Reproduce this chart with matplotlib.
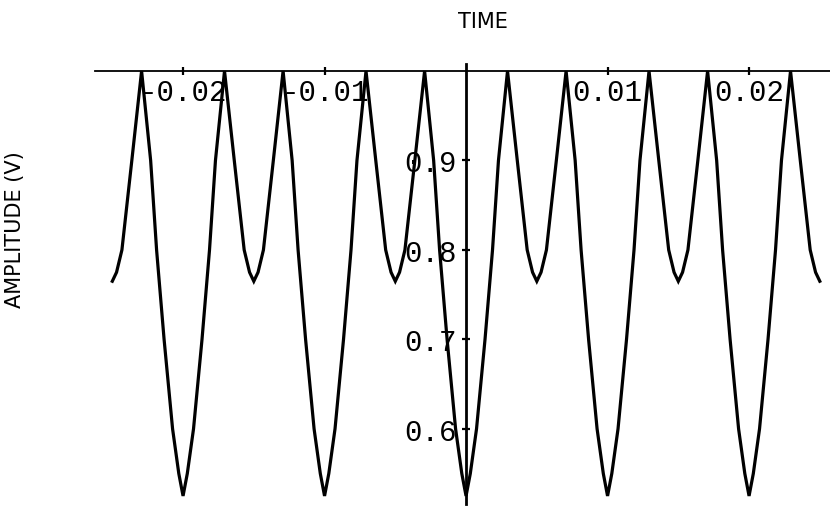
import numpy as np
import matplotlib
matplotlib.use('Agg')
import matplotlib.pyplot as plt

# waveform, time in ms, amplitude in V
time_ms = [
    -25.0, -24.7, -24.32, -23.62, -22.93, -22.29, -21.87, -21.34, -20.74, -20.3,
    -20.0, -19.7, -19.26, -18.66, -18.13, -17.71, -17.07, -16.38, -15.68, -15.3,
    -15.0, -14.7, -14.32, -13.62, -12.93, -12.29, -11.87, -11.34, -10.74, -10.3,
    -10.0, -9.7, -9.26, -8.66, -8.13, -7.71, -7.07, -6.38, -5.68, -5.3,
    -5.0, -4.7, -4.32, -3.62, -2.93, -2.29, -1.87, -1.34, -0.74, -0.3,
    0.0, 0.3, 0.74, 1.34, 1.87, 2.29, 2.93, 3.62, 4.32, 4.7,
    5.0, 5.3, 5.68, 6.38, 7.07, 7.71, 8.13, 8.66, 9.26, 9.7,
    10.0, 10.3, 10.74, 11.34, 11.87, 12.29, 12.93, 13.62, 14.32, 14.7,
    15.0, 15.3, 15.68, 16.38, 17.07, 17.71, 18.13, 18.66, 19.26, 19.7,
    20.0, 20.3, 20.74, 21.34, 21.87, 22.29, 22.93, 23.62, 24.32, 24.7,
    25.0,
]
amplitude = [
    0.765, 0.775, 0.80, 0.90, 1.00, 0.90, 0.80, 0.70, 0.60, 0.55,
    0.525, 0.55, 0.60, 0.70, 0.80, 0.90, 1.00, 0.90, 0.80, 0.775,
    0.765, 0.775, 0.80, 0.90, 1.00, 0.90, 0.80, 0.70, 0.60, 0.55,
    0.525, 0.55, 0.60, 0.70, 0.80, 0.90, 1.00, 0.90, 0.80, 0.775,
    0.765, 0.775, 0.80, 0.90, 1.00, 0.90, 0.80, 0.70, 0.60, 0.55,
    0.525, 0.55, 0.60, 0.70, 0.80, 0.90, 1.00, 0.90, 0.80, 0.775,
    0.765, 0.775, 0.80, 0.90, 1.00, 0.90, 0.80, 0.70, 0.60, 0.55,
    0.525, 0.55, 0.60, 0.70, 0.80, 0.90, 1.00, 0.90, 0.80, 0.775,
    0.765, 0.775, 0.80, 0.90, 1.00, 0.90, 0.80, 0.70, 0.60, 0.55,
    0.525, 0.55, 0.60, 0.70, 0.80, 0.90, 1.00, 0.90, 0.80, 0.775,
    0.765,
]

x_ticks = [-0.02, -0.01, 0.01, 0.02]
x_tick_labels = ['-0.02', '-0.01', '0.01', '0.02']
y_ticks = [0.6, 0.7, 0.8, 0.9]
y_tick_labels = ['0.6', '0.7', '0.8', '0.9']

fig = plt.figure(figsize=(8.3, 5.1), dpi=100)
ax = fig.add_axes([0.1145, 0.0098, 0.8855, 0.8627])

t = np.array(time_ms) / 1000.0
ax.plot(t, amplitude, color='black', lw=2.3, solid_joinstyle='miter', zorder=3)

ax.set_xlim(-0.02622, 0.02572)
ax.set_ylim(0.516, 1.0078)

# axes cross inside the plot: time axis along 1.0 V, amplitude axis at t = 0
for side in ['top', 'right']:
    ax.spines[side].set_visible(False)
ax.spines['bottom'].set_position(('data', 1.0))
ax.spines['left'].set_position(('data', 0.0))
ax.spines['bottom'].set_linewidth(1.3)
ax.spines['left'].set_linewidth(2.0)

mono = ['Liberation Mono', 'DejaVu Sans Mono']
ax.set_xticks(x_ticks)
ax.set_xticklabels(x_tick_labels, fontfamily=mono, fontsize=21)
ax.set_yticks(y_ticks)
ax.set_yticklabels(y_tick_labels, fontfamily=mono, fontsize=21)
ax.tick_params(axis='both', direction='inout', length=6, width=1.6, color='black')
ax.tick_params(axis='x', pad=2)
ax.tick_params(axis='y', pad=4)

fig.text(483 / 830, 1 - 22 / 510, 'TIME', ha='center', va='center',
         fontsize=15)
fig.text(15 / 830, 1 - 230 / 510, 'AMPLITUDE (V)', ha='center', va='center',
         rotation=90, fontsize=15)

fig.savefig('out.png', dpi=100)
